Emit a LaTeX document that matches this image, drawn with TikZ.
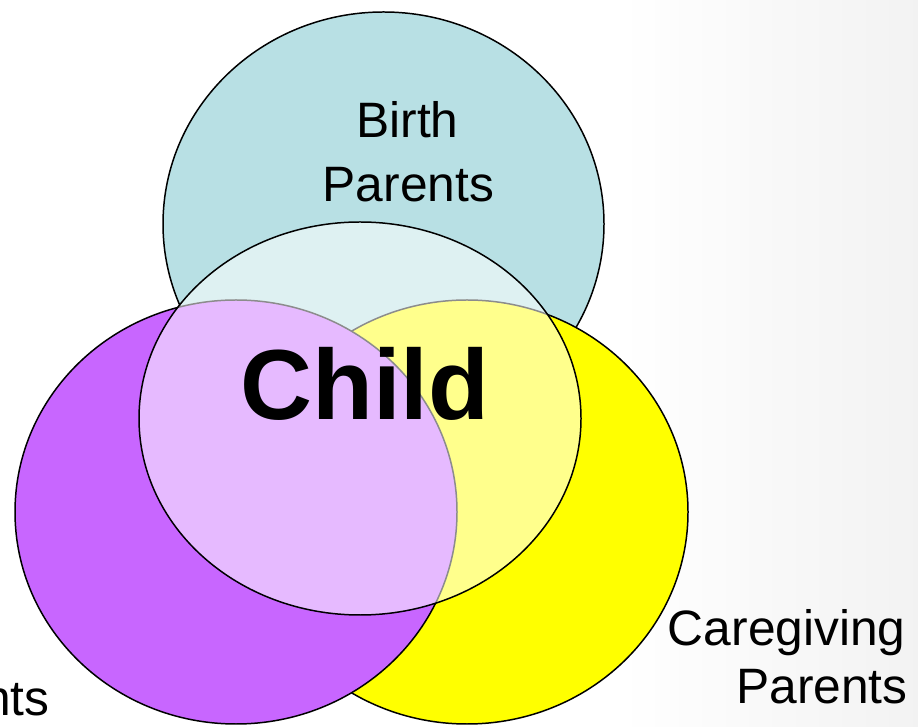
\documentclass[tikz,border=0pt]{standalone}
\usepackage{fontspec}
\setmainfont{Liberation Sans}
\definecolor{birthfill}{HTML}{B8E0E4}
\definecolor{legalfill}{HTML}{C866FF}
\definecolor{carefill}{HTML}{FFFF00}

\begin{document}
\begin{tikzpicture}[x=0.02cm, y=0.02cm,
    ring/.style={draw=black, line width=0.85pt},
    setlabel/.style={font=\fontsize{28.3}{34}\selectfont, text=black, inner sep=0pt},
  ]
  \fill[white] (0,0) rectangle (918,726);
  \shade[left color=white, right color=black!5] (620,0) rectangle (918,726);
  \useasboundingbox (0,0) rectangle (918,726);
  % the three sets
  \draw[ring, fill=birthfill] (383.5,502) ellipse [x radius=220.5, y radius=212];
  \draw[ring, fill=carefill]  (467,214)   ellipse [x radius=221, y radius=212];
  \draw[ring, fill=legalfill] (236,214)   ellipse [x radius=221, y radius=212];
  % the child in the middle
  \draw[ring, fill=white, fill opacity=0.55] (360,307.5) ellipse [x radius=221, y radius=196.5];
  \node[setlabel, anchor=base] (birth1) at (407.5,588) {Birth};
  \node[setlabel, anchor=base] (birth2) at (408.5,524) {Parents};
  \node[setlabel, anchor=base east] (care1) at (906,81) {Caregiving};
  \node[setlabel, anchor=base east] (care2) at (908,23) {Parents};
  \node[setlabel, anchor=base east] (legal) at (50,11) {nts};
  \node[font=\fontsize{56.7}{60}\selectfont\bfseries, inner sep=0pt, anchor=base] (child) at (365,306) {Child};
\end{tikzpicture}
\end{document}
